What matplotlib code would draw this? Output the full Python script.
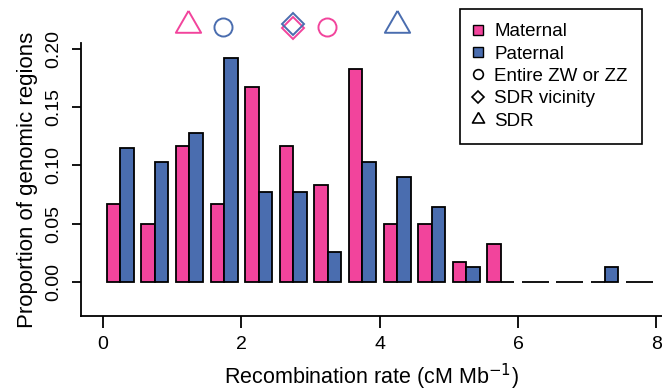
"""Maternal vs paternal recombination rate histogram with SDR markers."""

import matplotlib.pyplot as plt
import numpy as np
from matplotlib.lines import Line2D

plt.rcParams["font.family"] = ["Liberation Sans", "DejaVu Sans"]

# ── Data ───────────────────────────────────────────────────────────────────
bin_starts = np.arange(0, 8, 0.5)          # 16 bins of 0.5 cM/Mb
maternal = [0.067, 0.050, 0.117, 0.067, 0.167, 0.117, 0.083, 0.183,
            0.050, 0.050, 0.017, 0.033, 0.0, 0.0, 0.0, 0.0]
paternal = [0.115, 0.103, 0.128, 0.192, 0.077, 0.077, 0.026, 0.103,
            0.090, 0.064, 0.013, 0.0, 0.0, 0.0, 0.013, 0.0]

# marker positions above the plot (recombination rate)
entire_x = {"Maternal": 3.24, "Paternal": 1.73}
vicinity_x = {"Maternal": 2.75, "Paternal": 2.75}
sdr_x = {"Maternal": 1.23, "Paternal": 4.25}

# ── Aesthetics ─────────────────────────────────────────────────────────────
COLORS = {"Maternal": "#F2449C", "Paternal": "#4A6DAF"}
TRI = [(0, 1), (-0.866, -0.5), (0.866, -0.5), (0, 1)]

fig = plt.figure(figsize=(6.62, 3.90), dpi=100)
ax = fig.add_axes([81 / 662, 74 / 390, 581 / 662, 273 / 390])

bw = 0.195
ax.bar(bin_starts + 0.055, maternal, width=bw, align="edge",
       color=COLORS["Maternal"], edgecolor="black", linewidth=1.3, zorder=2)
ax.bar(bin_starts + 0.055 + bw, paternal, width=bw, align="edge",
       color=COLORS["Paternal"], edgecolor="black", linewidth=1.3, zorder=2)

# top markers
y_mark = 0.219
for who in ["Maternal", "Paternal"]:
    c = COLORS[who]
    ax.plot(entire_x[who], y_mark, marker="o", ms=13, mfc="none", mec=c,
            mew=1.4, clip_on=False, zorder=5)
    ax.plot(sdr_x[who], y_mark + 0.001, marker=TRI, ms=21, mfc="none", mec=c,
            mew=1.4, clip_on=False, zorder=5)
ax.plot(vicinity_x["Maternal"], y_mark - 0.0015, marker="D", ms=11, mfc="none",
        mec=COLORS["Maternal"], mew=1.4, clip_on=False, zorder=5)
ax.plot(vicinity_x["Paternal"], y_mark + 0.002, marker="D", ms=11, mfc="none",
        mec=COLORS["Paternal"], mew=1.4, clip_on=False, zorder=6)

# axes styling (R-like, bty="l")
ax.set_xlim(-0.318, 8.08)
ax.set_ylim(-0.029, 0.205)
ax.spines["top"].set_visible(False)
ax.spines["right"].set_visible(False)
for s in ["left", "bottom"]:
    ax.spines[s].set_linewidth(1.3)
ax.set_xticks([0, 2, 4, 6, 8])
ax.set_yticks([0.0, 0.05, 0.10, 0.15, 0.20])
ax.set_yticklabels(["0.00", "0.05", "0.10", "0.15", "0.20"], rotation=90,
                   va="center")
ax.tick_params(axis="x", direction="out", length=8.4, width=1.3,
               labelsize=14, pad=6)
ax.tick_params(axis="y", direction="out", length=6.5, width=1.3,
               labelsize=14, pad=7)
ax.set_xlabel("Recombination rate (cM Mb$^{-1}$)", fontsize=15.5, labelpad=6)
ax.set_ylabel("Proportion of genomic regions", fontsize=16, labelpad=5)

handles = [
    Line2D([], [], ls="none", marker="s", ms=7, mfc=COLORS["Maternal"],
           mec="black", mew=1.0, label="Maternal"),
    Line2D([], [], ls="none", marker="s", ms=7, mfc=COLORS["Paternal"],
           mec="black", mew=1.0, label="Paternal"),
    Line2D([], [], ls="none", marker="o", ms=7, mfc="none", mec="black",
           mew=1.2, label="Entire ZW or ZZ"),
    Line2D([], [], ls="none", marker="D", ms=6, mfc="none", mec="black",
           mew=1.2, label="SDR vicinity"),
    Line2D([], [], ls="none", marker=TRI, ms=10, mfc="none", mec="black",
           mew=1.2, label="SDR"),
]
leg = fig.legend(handles=handles, loc="upper right",
                 bbox_to_anchor=(642 / 662, 1 - 9 / 390), fontsize=13.5,
                 frameon=True, fancybox=False, framealpha=1, edgecolor="black",
                 borderaxespad=0, handlelength=0.4, handletextpad=0.7,
                 labelspacing=0.28, borderpad=0.75)
leg.get_frame().set_linewidth(1.2)

fig.savefig("out.png", dpi=100)
